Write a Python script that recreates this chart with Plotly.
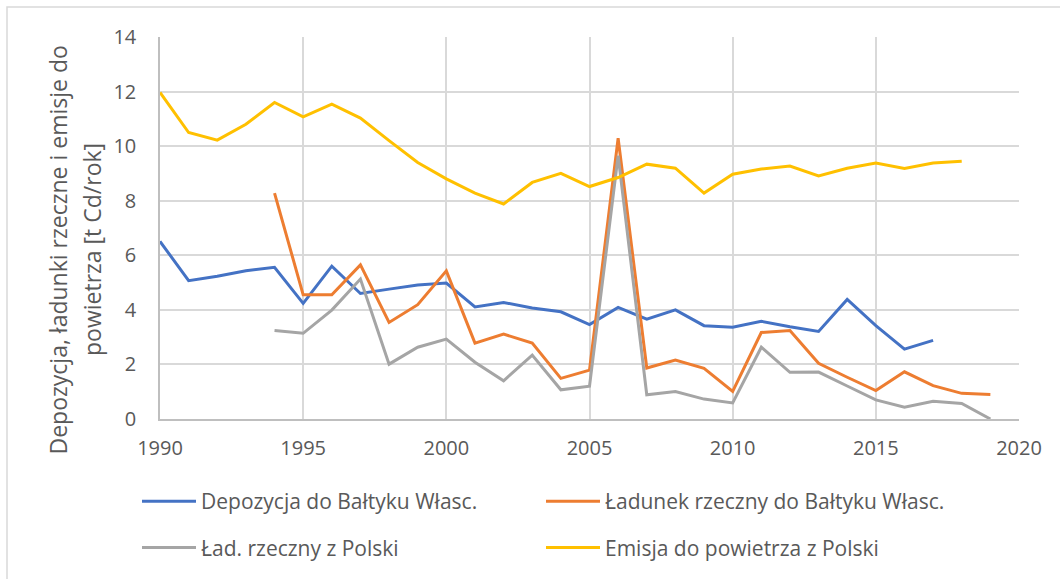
import plotly.graph_objects as go

years = list(range(1990, 2020))

depozycja = [6.51, 5.07, 5.23, 5.43, 5.56, 4.24, 5.60, 4.60, 4.76, 4.91,
             4.98, 4.11, 4.27, 4.07, 3.93, 3.46, 4.09, 3.66, 4.00, 3.42,
             3.36, 3.58, 3.38, 3.21, 4.38, 3.42, 2.56, 2.88, None, None]

ladunek = [None, None, None, None, 8.28, 4.55, 4.55, 5.65, 3.54, 4.19,
           5.43, 2.78, 3.11, 2.78, 1.49, 1.79, 10.29, 1.87, 2.16, 1.86,
           1.01, 3.17, 3.24, 2.04, 1.53, 1.04, 1.73, 1.22, 0.94, 0.90]

lad_polska = [None, None, None, None, 3.24, 3.14, 3.99, 5.13, 2.01, 2.63,
              2.93, 2.08, 1.40, 2.34, 1.07, 1.20, 9.65, 0.89, 1.01, 0.73,
              0.59, 2.63, 1.71, 1.72, 1.21, 0.70, 0.43, 0.65, 0.57, 0.00]

emisja = [11.97, 10.50, 10.22, 10.80, 11.60, 11.07, 11.54, 11.03, 10.20, 9.40,
          8.80, 8.28, 7.88, 8.67, 9.00, 8.52, 8.85, 9.34, 9.19, 8.28,
          8.97, 9.16, 9.27, 8.91, 9.19, 9.38, 9.18, 9.38, 9.45, None]

names = ["Depozycja do Bałtyku Własc.", "Ładunek rzeczny do Bałtyku Własc.",
         "Ład. rzeczny z Polski", "Emisja do powietrza z Polski"]
colors = ["#4472C4", "#ED7D31", "#A5A5A5", "#FFC000"]
series = [depozycja, ladunek, lad_polska, emisja]
legends = ["legend", "legend2", "legend", "legend2"]

FONT = "Open Sans"
TXT = "#595959"

fig = go.Figure()
for i, (nm, col, vals, lg) in enumerate(zip(names, colors, series, legends)):
    fig.add_trace(go.Scatter(
        x=years, y=vals, name=nm, mode="lines",
        line=dict(color=col, width=3),
        legend=lg, legendgroup=f"g{i}",
        connectgaps=False,
    ))

W, H = 1060, 579
L, R, T, B = 160, 41, 37, 160
pw, ph = W - L - R, H - T - B

def px(xp):
    return (xp - L) / pw

def py(yp):
    return (H - B - yp) / ph

legend_common = dict(
    orientation="v", font=dict(family=FONT, size=21, color=TXT),
    bgcolor="rgba(0,0,0,0)", itemwidth=54, tracegroupgap=16,
    xanchor="left", yanchor="top", traceorder="grouped",
)

fig.update_layout(
    width=W, height=H,
    margin=dict(l=L, r=R, t=T, b=B, autoexpand=False),
    paper_bgcolor="white", plot_bgcolor="white",
    font=dict(family=FONT, size=20, color=TXT),
    showlegend=True,
    legend=dict(x=px(137), y=py(481), **legend_common),
    legend2=dict(x=px(541), y=py(481), **legend_common),
    xaxis=dict(
        range=[1990, 2020], dtick=5, tick0=1990,
        showgrid=True, gridcolor="#D9D9D9", gridwidth=1.5,
        showline=True, linecolor="#BFBFBF", linewidth=1.5,
        zeroline=False, ticks="", ticklabelstandoff=10,
        tickfont=dict(family=FONT, size=20, color=TXT),
    ),
    yaxis=dict(
        range=[0, 14], dtick=2, tick0=0,
        showgrid=True, gridcolor="#D9D9D9", gridwidth=1.5,
        showline=True, linecolor="#BFBFBF", linewidth=1.5,
        zeroline=False, ticks="", ticklabelstandoff=18,
        tickfont=dict(family=FONT, size=20, color=TXT),
    ),
    annotations=[
        dict(text="Depozycja, ładunki rzeczne i emisje do", textangle=-90,
             xref="paper", yref="paper", x=px(57.5), y=py(250),
             xanchor="center", yanchor="middle", showarrow=False,
             font=dict(family=FONT, size=23, color=TXT)),
        dict(text="powietrza [t Cd/rok]", textangle=-90,
             xref="paper", yref="paper", x=px(92), y=py(250),
             xanchor="center", yanchor="middle", showarrow=False,
             font=dict(family=FONT, size=23, color=TXT)),
    ],
    shapes=[
        dict(type="rect", xref="paper", yref="paper",
             x0=px(7), x1=px(1066), y0=py(7), y1=py(590),
             line=dict(color="#D9D9D9", width=1.5), fillcolor="rgba(0,0,0,0)",
             layer="below"),
    ],
)

fig.write_html("out.html", config={"displayModeBar": False},
               post_script="document.body.style.margin='0';")
